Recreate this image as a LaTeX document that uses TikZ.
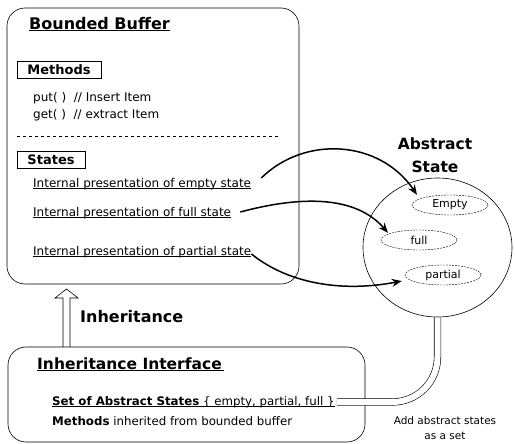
\documentclass[tikz,border=0pt]{standalone}
\usepackage{fontspec}
\setmainfont{DejaVu Sans}
\usetikzlibrary{arrows.meta, positioning, shapes.geometric}

% underline that runs through the descenders, as in the scan
\newcommand{\ulbox}[1]{\leavevmode\setbox0\hbox{#1}\rlap{\rule[-1.6pt]{\wd0}{0.6pt}}\box0}

\begin{document}
\begin{tikzpicture}[
            x=1pt, y=-1pt,
            panel/.style={
                rectangle,
                draw,
                rounded corners=18pt,
                line width=0.6pt
            },
            heading/.style={
                font=\bfseries\fontsize{16}{18}\selectfont,
                anchor=west,
                inner sep=0pt
            },
            tagbox/.style={
                rectangle,
                draw,
                line width=0.5pt,
                font=\bfseries\fontsize{13}{15}\selectfont,
                minimum height=17pt,
                inner sep=1pt
            },
            bodytext/.style={
                font=\fontsize{12}{14}\selectfont,
                anchor=west,
                inner sep=0pt
            },
            smalltext/.style={
                font=\fontsize{12}{14}\selectfont,
                anchor=west,
                inner sep=0pt
            },
            statenode/.style={
                ellipse,
                draw,
                line width=0.4pt,
                dash pattern=on 2pt off 1pt,
                minimum width=76pt,
                minimum height=20pt,
                inner sep=0pt,
                font=\fontsize{11}{13}\selectfont
            },
            flow/.style={
                -{Stealth[length=10pt, width=8pt]},
                line width=1.5pt
            },
            band/.style={
                double,
                double distance=6pt,
                line width=0.6pt,
                rounded corners=45pt
            },
            hollow/.style={
                line width=0.6pt
            }
        ]

        \useasboundingbox (0,0) rectangle (515,444);

        % Bounded Buffer Node
        \node (buffer) [panel, minimum width=292pt, minimum height=276pt] at (153,146) {};
        \node (buffertitle) [heading] at (29,24) {\ulbox{Bounded Buffer}};

        % Methods of the buffer
        \node (methods) [tagbox, minimum width=84pt] at (59,70) {Methods};
        \node (putop) [smalltext] at (33,98) {put( ) \ // Insert Item};
        \node (getop) [smalltext] at (33,115) {get( ) \ // extract Item};
        \draw[dashed, line width=0.5pt] (17,136) -- (278,136);

        % States of the buffer
        \node (states) [tagbox, minimum width=68pt] at (51,160) {States};
        \node (emptyrep) [bodytext] at (33,184) {\ulbox{Internal presentation of empty state}};
        \node (fullrep) [bodytext] at (33,213) {\ulbox{Internal presentation of full state}};
        \node (partialrep) [bodytext] at (33,252) {\ulbox{Internal presentation of partial state}};

        % Abstract State Node
        \node (abstract) [ellipse, draw, line width=0.6pt, minimum width=149pt, minimum height=139pt] at (437.5,247.5) {};
        \node (abstracttitle) [heading, anchor=center, align=center, font=\bfseries\fontsize{15.5}{23}\selectfont] at (435,155) {Abstract\\State};
        \node (emptyst) [statenode] at (450,205) {Empty};
        \node (fullst) [statenode] at (419,240) {full};
        \node (partialst) [statenode] at (443,275) {partial};

        % Arrows from the internal states to the abstract states
        \draw[flow] ([xshift=10pt, yshift=6pt]emptyrep.east) .. controls (305,135) and (380,140) .. ([xshift=-6pt, yshift=3pt]emptyst.north west);
        \draw[flow] ([xshift=9pt, yshift=1pt]fullrep.east) .. controls (300,196) and (355,195) .. ([xshift=-4pt]fullst.north west);
        \draw[flow] ([yshift=-2pt]partialrep.east) .. controls (290,285) and (345,292) .. ([xshift=-3pt, yshift=-6pt]partialst.west);

        % Inheritance arrow
        \draw[hollow] (63,347) -- (63,298) -- (55,298) -- (66.5,289) -- (78,298) -- (70,298) -- (70,347);
        \node (inheritance) [heading] at (80,317) {Inheritance};

        % Inheritance Interface Node
        \node (iface) [panel, minimum width=357pt, minimum height=95pt] at (186.5,394.5) {};
        \node (ifacetitle) [heading, font=\bfseries\fontsize{15.5}{18}\selectfont] at (37,364) {\ulbox{Inheritance Interface\,}};
        \node (stateset) [smalltext, font=\fontsize{11.8}{14}\selectfont] at (52,402) {\ulbox{\textbf{Set of Abstract States} \{ empty, partial, full \}}};
        \node (inherited) [smalltext, font=\fontsize{11.8}{14}\selectfont] at (52,421) {\textbf{Methods} inherited from bounded buffer};

        % Band from the abstract states to the set
        \draw[band] (abstract.south) |- ([xshift=2pt]stateset.east);
        \node (addnote) [font=\fontsize{10.5}{15}\selectfont, align=center] at (445,428) {Add abstract states\\as a set};

        \end{tikzpicture}
\end{document}
